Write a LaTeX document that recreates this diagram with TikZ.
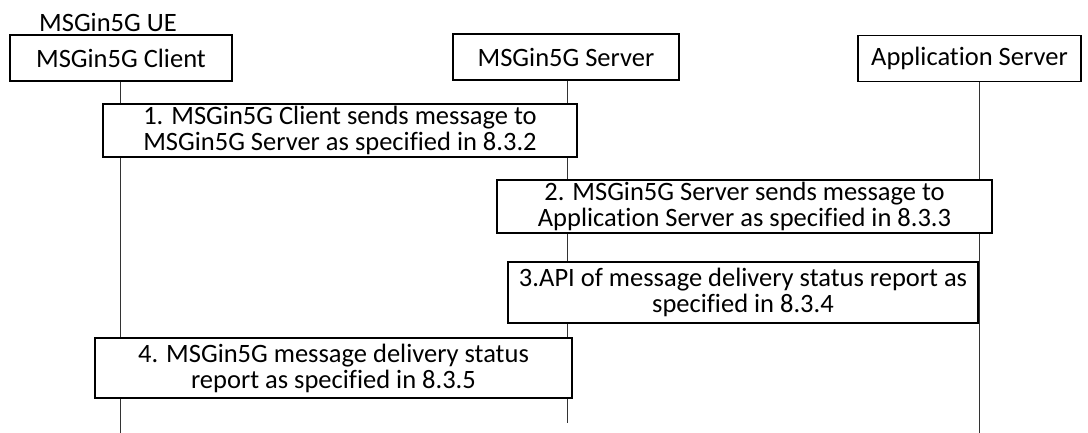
\documentclass[tikz,border=0pt]{standalone}
\usepackage{fontspec}
\setmainfont{Carlito}[Ligatures=NoCommon]
\usetikzlibrary{positioning}

\begin{document}
\begin{tikzpicture}[x=1pt,y=-1pt,font=\fontsize{26.5}{26}\selectfont,
  entity/.style={draw,line width=1.2pt,inner sep=0pt,minimum height=46pt},
  msgbox/.style={draw,fill=white,line width=1.2pt,inner sep=0pt,align=center},
  lifeline/.style={black!80,line width=0.9pt}]
\useasboundingbox (0,0) rectangle (1088,433);
\node[entity,minimum width=222pt] (client) at (121,58) {MSGin5G Client};
\node[entity,minimum width=226pt] (server) at (566,57) {MSGin5G Server};
\node[entity,minimum width=223pt] (app) at (969.5,58.5) {Application Server};
\node[anchor=base west,inner sep=0pt] (ue) at (39,32) {MSGin5G UE};
\coordinate (clientEnd) at (120,433);
\coordinate (serverEnd) at (567,423);
\coordinate (appEnd) at (979,433);
\draw[lifeline] (clientEnd |- client.south) -- (clientEnd);
\draw[lifeline] (serverEnd |- server.south) -- (serverEnd);
\draw[lifeline] (appEnd |- app.south) -- (appEnd);
\foreach \n/\x/\y/\w/\h/\t in {
  1/340/130.5/474/53/{1. MSGin5G Client sends message to\\MSGin5G Server as specified in 8.3.2},
  2/744.5/206.5/495/53/{2. MSGin5G Server sends message to\\Application Server as specified in 8.3.3},
  3/743/292.5/470/61/{3.API of message delivery status report as\\specified in 8.3.4},
  4/333.5/368/477/60/{4. MSGin5G message delivery status\\report as specified in 8.3.5}}{
  \node[msgbox,minimum width=\w pt,minimum height=\h pt] (step\n) at (\x,\y) {\t};
}
\end{tikzpicture}
\end{document}
